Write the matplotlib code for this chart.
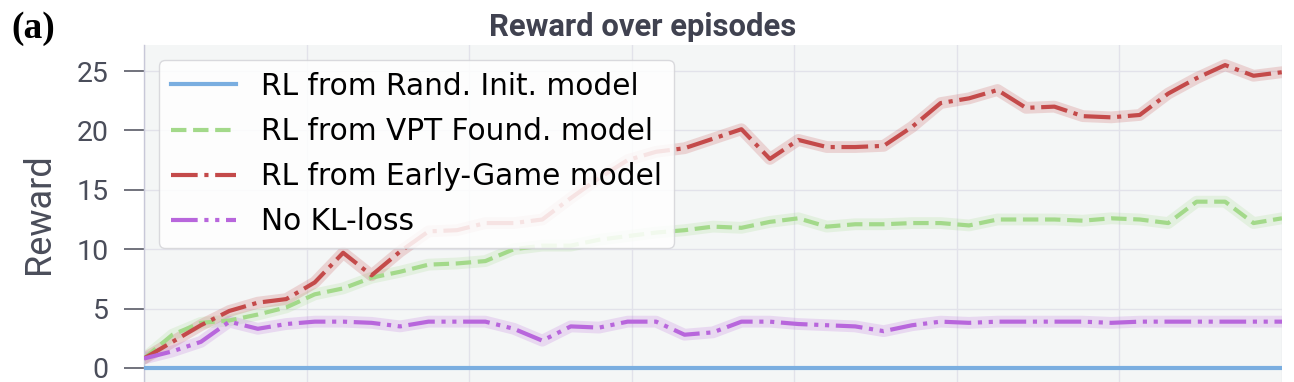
import numpy as np
import matplotlib
matplotlib.use("Agg")
import matplotlib.pyplot as plt

# ---- data ----
labels = ["RL from Rand. Init. model", "RL from VPT Found. model",
          "RL from Early-Game model", "No KL-loss"]
rand_init = [0.0] * 41
vpt_found = [0.8, 2.8, 3.8, 4.0, 4.5, 5.1, 6.2, 6.7, 7.6, 8.1,
             8.7, 8.8, 9.0, 10.0, 10.3, 10.3, 10.8, 11.1, 11.4, 11.6,
             11.9, 11.8, 12.3, 12.6, 11.9, 12.1, 12.1, 12.2, 12.2, 12.0,
             12.5, 12.5, 12.5, 12.4, 12.6, 12.5, 12.2, 14.0, 14.0, 12.2,
             12.6]
early_game = [0.8, 2.2, 3.6, 4.8, 5.5, 5.8, 7.2, 9.7, 7.8, 9.8,
              11.5, 11.6, 12.2, 12.2, 12.5, 14.3, 16.0, 17.5, 18.2, 18.5,
              19.3, 20.1, 17.6, 19.2, 18.6, 18.6, 18.7, 20.3, 22.3, 22.7,
              23.4, 21.9, 22.0, 21.2, 21.1, 21.3, 23.1, 24.4, 25.5, 24.6,
              24.9]
no_kl = [0.8, 1.4, 2.2, 3.9, 3.3, 3.7, 3.9, 3.9, 3.8, 3.5,
         3.9, 3.9, 3.9, 3.3, 2.3, 3.5, 3.4, 3.9, 3.9, 2.8,
         3.0, 3.9, 3.9, 3.7, 3.6, 3.5, 3.1, 3.6, 3.9, 3.8,
         3.9, 3.9, 3.9, 3.9, 3.8, 3.9, 3.9, 3.9, 3.9, 3.9,
         3.9]
episodes = np.arange(len(early_game))
y_ticks = [0, 5, 10, 15, 20, 25]

series = [rand_init, vpt_found, early_game, no_kl]
colors = ["#7aaee0", "#a3d98a", "#c44a4a", "#b866dc"]
styles = ["-", "--", "-.", (0, (6.4, 1.6, 1, 1.6, 1, 1.6))]
halo = [False, True, True, True]

W, H = 1294, 382
fig = plt.figure(figsize=(W / 100, H / 100), dpi=100)
ax = fig.add_axes([144 / W, 0.0, (1282 - 144) / W, 1 - 45 / H])
ax.set_facecolor("#f4f6f6")

for s, c, ls, h, lab in zip(series, colors, styles, halo, labels):
    if h:
        ax.plot(episodes, s, color=c, lw=8.5, alpha=0.2, solid_capstyle="round",
                solid_joinstyle="round", zorder=2)
    ax.plot(episodes, s, color=c, lw=3, ls=ls, label=lab, zorder=3)

ax.set_xlim(episodes[0], episodes[-1])
ax.set_ylim(-1.18, 27.19)
ax.set_yticks(y_ticks)
ax.set_xticks(np.linspace(episodes[0], episodes[-1], 8))
ax.tick_params(axis="x", length=0, labelbottom=False)
ax.tick_params(axis="y", length=14.4, width=1.1, color="#4a4c58", pad=11,
               labelsize=20.5, labelcolor="#4a4d5a")
for t in ax.get_yticklabels():
    t.set_fontfamily("Roboto")
    t.set_fontweight("normal")
ax.grid(True, color="#e2e2ea", lw=1)
ax.set_axisbelow(True)
for sp in ["top", "right", "bottom"]:
    ax.spines[sp].set_visible(False)
ax.spines["left"].set_color("#c8c8d8")
ax.spines["left"].set_linewidth(1)

ax.set_ylabel("Reward", fontsize=26, color="#4a4d5a", family="Roboto",
              fontweight="normal", labelpad=14)

leg = ax.legend(loc="upper left", handlelength=2.2,
                handletextpad=0.85, labelspacing=0.55, borderaxespad=0.5,
                frameon=True, fancybox=True, framealpha=0.85,
                edgecolor="#d4d4d8", prop={"family": "DejaVu Sans", "size": 21.3})

fig.text(0.497, 1 - 36 / H, "Reward over episodes", ha="center", va="baseline",
         fontsize=22.3, fontweight="bold", color="#404250", family="Roboto")
fig.text(11 / W, 1 - 38 / H, "(a)", ha="left", va="baseline", fontsize=27,
         fontweight="bold", family="Liberation Serif", color="black")

fig.savefig("out.png", dpi=100)
